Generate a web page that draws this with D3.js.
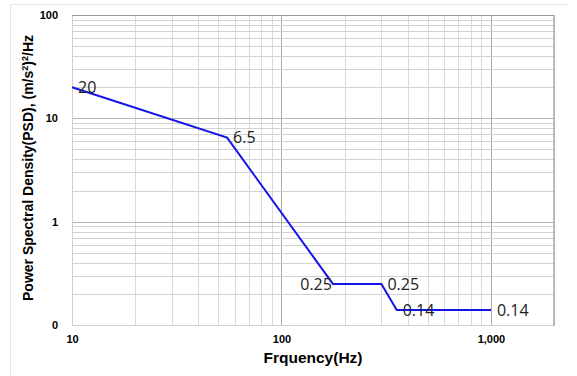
<!DOCTYPE html>
<html>
<head>
<meta charset="utf-8">
<script src="https://cdn.jsdelivr.net/npm/d3@7"></script>
<style>
  body { margin: 0; background: #fff; }
  svg { display: block; }
</style>
</head>
<body>
<div id="chart"></div>
<script>
// data
const freq = [10, 55, 176, 300, 355, 1000];
const psd = [20, 6.5, 0.25, 0.25, 0.14, 0.14];
const pointLabels = ["20", "6.5", "0.25", "0.25", "0.14", "0.14"];

const xTickValues = [10, 100, 1000];
const xTickLabels = ["10", "100", "1,000"];
const yTickValues = [0.1, 1, 10, 100];
const yTickLabels = ["0", "1", "10", "100"];

const MARGIN = { LEFT: 72, RIGHT: 23, TOP: 15, BOTTOM: 51 }
const WIDTH = 577 - MARGIN.LEFT - MARGIN.RIGHT
const HEIGHT = 376 - MARGIN.TOP - MARGIN.BOTTOM

const svg = d3.select("#chart").append("svg")
  .attr("width", 577)
  .attr("height", 376);

// outer frame (only top and left visible)
svg.append("line")
  .attr("x1", 10.5).attr("x2", 567)
  .attr("y1", 4.5).attr("y2", 4.5)
  .attr("stroke", "#e3e3e3");
svg.append("line")
  .attr("x1", 10.5).attr("x2", 10.5)
  .attr("y1", 4.5).attr("y2", 376)
  .attr("stroke", "#e3e3e3");

const g = svg.append("g")
  .attr("transform", `translate(${MARGIN.LEFT}, ${MARGIN.TOP})`);

const x = d3.scaleLog()
  .domain([10, 2000])
  .range([0, WIDTH]);

const y = d3.scaleLog()
  .domain([0.1, 100])
  .range([HEIGHT, 0]);

// grid
const isMajor = v => Math.abs(Math.log10(v) - Math.round(Math.log10(v))) < 1e-9;

g.append("g").selectAll("line")
  .data(x.ticks())
  .enter().append("line")
  .attr("x1", d => Math.round(x(d)) + 0.5)
  .attr("x2", d => Math.round(x(d)) + 0.5)
  .attr("y1", 0)
  .attr("y2", HEIGHT)
  .attr("stroke", d => isMajor(d) ? "#a8a8a8" : "#dadada");

g.append("g").selectAll("line")
  .data(y.ticks())
  .enter().append("line")
  .attr("x1", 0)
  .attr("x2", WIDTH)
  .attr("y1", d => Math.round(y(d)) + 0.5)
  .attr("y2", d => Math.round(y(d)) + 0.5)
  .attr("stroke", d => isMajor(d) ? "#b8b8b8" : "#d2d2d2");

// plot border
g.append("line")
  .attr("x1", 0.5).attr("x2", 0.5).attr("y1", 0).attr("y2", HEIGHT)
  .attr("stroke", "#d0d0d0");
g.append("line")
  .attr("x1", 0).attr("x2", WIDTH).attr("y1", HEIGHT + 0.5).attr("y2", HEIGHT + 0.5)
  .attr("stroke", "#d0d0d0");
g.append("line")
  .attr("x1", 0).attr("x2", WIDTH).attr("y1", 0.5).attr("y2", 0.5)
  .attr("stroke", "#999");
g.append("line")
  .attr("x1", WIDTH).attr("x2", WIDTH).attr("y1", 0).attr("y2", HEIGHT + 1)
  .attr("stroke", "#aaa")
  .attr("stroke-width", 1.5);

// axes
const xAxisCall = d3.axisBottom(x)
  .tickValues(xTickValues)
  .tickFormat((d, i) => xTickLabels[i])
  .tickSize(0)
  .tickPadding(10);
const xAxis = g.append("g")
  .attr("class", "x axis")
  .attr("transform", `translate(0, ${HEIGHT})`)
  .call(xAxisCall);

const yAxisCall = d3.axisLeft(y)
  .tickValues(yTickValues)
  .tickFormat((d, i) => yTickLabels[i])
  .tickSize(0)
  .tickPadding(14);
const yAxis = g.append("g")
  .attr("class", "y axis")
  .call(yAxisCall);

[xAxis, yAxis].forEach(a => {
  a.select(".domain").remove();
  a.selectAll("text")
    .attr("font-family", "'Liberation Sans', Arial, sans-serif")
    .attr("font-size", "11px")
    .attr("font-weight", "bold")
    .attr("fill", "#000");
});

// X label
g.append("text")
  .attr("x", 241)
  .attr("y", HEIGHT + 38)
  .attr("font-family", "'Liberation Sans', Arial, sans-serif")
  .attr("font-size", "15.5px")
  .attr("font-weight", "bold")
  .attr("text-anchor", "middle")
  .text("Frquency(Hz)");

// Y label
const yLabel = g.append("text")
  .attr("x", -(153))
  .attr("y", -39)
  .attr("font-family", "'Liberation Sans', Arial, sans-serif")
  .attr("font-size", "14px")
  .attr("font-weight", "bold")
  .attr("text-anchor", "middle")
  .attr("transform", "rotate(-90)");
yLabel.append("tspan").text("Power Spectral Density(PSD), (m/s");
yLabel.append("tspan").attr("font-size", "9px").attr("dy", -5).text("2");
yLabel.append("tspan").attr("dy", 5).text(")");
yLabel.append("tspan").attr("font-size", "9px").attr("dy", -5).text("2");
yLabel.append("tspan").attr("dy", 5).text("/Hz");

// PSD line
const points = freq.map((f, i) => ({ f: f, p: psd[i], label: pointLabels[i] }));

const line = d3.line()
  .x(d => x(d.f))
  .y(d => y(d.p));

g.append("path")
  .datum(points)
  .attr("d", line)
  .attr("fill", "none")
  .attr("stroke", "#1414e6")
  .attr("stroke-width", 2);

// point labels
g.selectAll(".point-label")
  .data(points)
  .enter().append("text")
  .attr("class", "point-label")
  .attr("x", d => x(d.f))
  .attr("y", d => y(d.p))
  .attr("dx", (d, i) => i === 2 ? -1 : 6)
  .attr("dy", "0.36em")
  .attr("text-anchor", (d, i) => i === 2 ? "end" : "start")
  .attr("font-family", "'Open Sans', 'Noto Sans', sans-serif")
  .attr("font-size", "16px")
  .attr("fill", "#222")
  .text(d => d.label);
</script>
</body>
</html>
